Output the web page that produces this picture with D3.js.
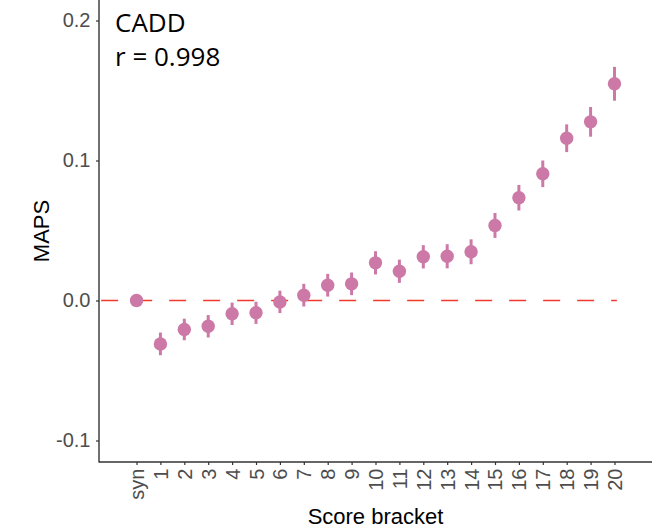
<!DOCTYPE html>
<html>
<head>
<meta charset="utf-8">
<script src="https://cdn.jsdelivr.net/npm/d3@7"></script>
<style>
  html, body { margin: 0; padding: 0; background: #fff; }
  svg { display: block; }
</style>
</head>
<body>
<svg id="chart" width="652" height="532"></svg>
<script>
// ---- data ----
const categories = ["syn","1","2","3","4","5","6","7","8","9","10","11","12","13","14","15","16","17","18","19","20"];
const maps = [0, -0.031, -0.0207, -0.0184, -0.0095, -0.0088, -0.001, 0.0038, 0.0109, 0.0119, 0.0269, 0.0209, 0.0312, 0.0316, 0.0348, 0.0536, 0.0734, 0.0905, 0.1159, 0.1276, 0.1548];
const errs = [0.001, 0.0081, 0.0077, 0.008, 0.008, 0.0079, 0.008, 0.0081, 0.0081, 0.0081, 0.0083, 0.0083, 0.0083, 0.0086, 0.0089, 0.0089, 0.0091, 0.0095, 0.0099, 0.0106, 0.0121];
const yTicks = [-0.1, 0.0, 0.1, 0.2];
const annotation = ["CADD", "r = 0.998"];

// ---- layout ----
const svg = d3.select("#chart");
const pLeft = 99, pRight = 652, pTop = 0, pBottom = 462;

const x = d3.scalePoint().domain(categories).range([pLeft, pRight]).padding(1.57);
const y = d3.scaleLinear().domain([-0.11536, 0.21464]).range([pBottom, pTop]);

const fmt = v => d3.format(".1f")(v).replace("\u2212", "-");

// reference line
const step = x.step();
svg.append("line")
  .attr("x1", x("syn") - 1.48 * step)
  .attr("x2", x("20") + 0.1 * step)
  .attr("y1", y(0)).attr("y2", y(0))
  .attr("stroke", "#F03A2E")
  .attr("stroke-width", 1.3)
  .attr("stroke-dasharray", "17,17");

// error bars
const data = categories.map((c, i) => ({c, v: maps[i], e: errs[i]}));
svg.append("g").selectAll("line").data(data).join("line")
  .attr("x1", d => x(d.c)).attr("x2", d => x(d.c))
  .attr("y1", d => y(d.v - d.e)).attr("y2", d => y(d.v + d.e))
  .attr("stroke", "#CC79A7").attr("stroke-width", 3);

// points
svg.append("g").selectAll("circle").data(data).join("circle")
  .attr("cx", d => x(d.c)).attr("cy", d => y(d.v))
  .attr("r", 6.7)
  .attr("fill", "#CC79A7");

// axes
const yAxis = d3.axisLeft(y).tickValues(yTicks).tickFormat(fmt).tickSize(3).tickPadding(5.5);
const gy = svg.append("g").attr("transform", `translate(${pLeft},0)`).call(yAxis);
gy.select(".domain").remove();
gy.selectAll(".tick line").attr("stroke", "#333").attr("stroke-width", 1.2);
gy.selectAll(".tick text")
  .attr("fill", "#4D4D4D")
  .style("font-family", "'Liberation Sans', Arial, sans-serif")
  .style("font-size", "20px");

const xAxis = d3.axisBottom(x).tickSize(3).tickPadding(0);
const gx = svg.append("g").attr("transform", `translate(0,${pBottom})`).call(xAxis);
gx.select(".domain").remove();
gx.selectAll(".tick line").attr("stroke", "#333").attr("stroke-width", 1.2);
gx.selectAll(".tick text")
  .attr("fill", "#4D4D4D")
  .style("font-family", "'Liberation Sans', Arial, sans-serif")
  .style("font-size", "20px")
  .attr("transform", "rotate(-90)")
  .attr("text-anchor", "end")
  .attr("x", -6.5)
  .attr("y", 0)
  .attr("dy", "0.35em");

// axis lines
svg.append("line").attr("x1", pLeft).attr("x2", pLeft).attr("y1", pTop).attr("y2", pBottom + 0.6)
  .attr("stroke", "#333").attr("stroke-width", 1.4);
svg.append("line").attr("x1", pLeft).attr("x2", pRight).attr("y1", pBottom).attr("y2", pBottom)
  .attr("stroke", "#333").attr("stroke-width", 1.4);

// axis titles
svg.append("text")
  .attr("x", (pLeft + pRight) / 2).attr("y", 523.5)
  .attr("text-anchor", "middle")
  .style("font-family", "'Liberation Sans', Arial, sans-serif")
  .style("font-size", "22px")
  .attr("fill", "#000")
  .text("Score bracket");

svg.append("text")
  .attr("transform", `translate(49,${(pTop + pBottom) / 2}) rotate(-90)`)
  .attr("text-anchor", "middle")
  .style("font-family", "'Liberation Sans', Arial, sans-serif")
  .style("font-size", "22px")
  .attr("fill", "#000")
  .text("MAPS");

// annotation
svg.append("g").selectAll("text").data(annotation).join("text")
  .attr("x", 115)
  .attr("y", (d, i) => 31.7 + i * 34.3)
  .style("font-family", "'Open Sans', sans-serif")
  .style("font-size", "26px")
  .attr("fill", "#000")
  .text(d => d);
</script>
</body>
</html>
